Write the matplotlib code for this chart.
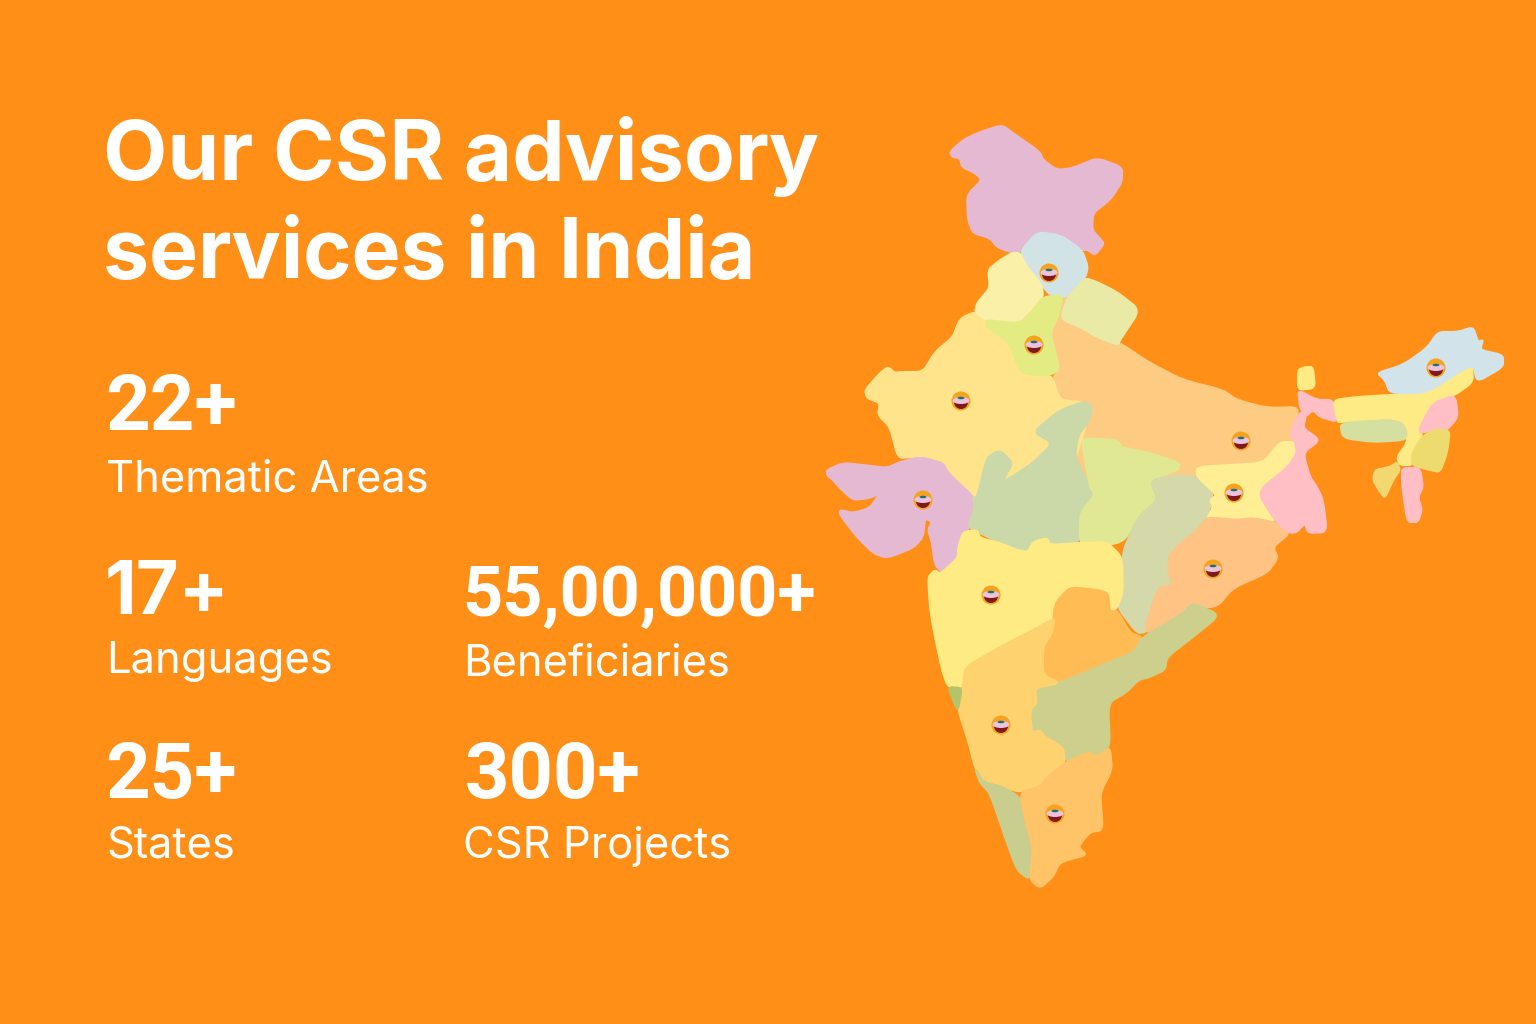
import matplotlib
matplotlib.use('Agg')
import matplotlib.pyplot as plt
from matplotlib.patches import Circle, Ellipse, Wedge, PathPatch
from matplotlib.path import Path

# everything is placed in the pixel space of the 1536x1024 picture
WIDTH = 1536
HEIGHT = 1024
BACKGROUND = '#FF8F17'
CORNER = 0.3

title_lines = ['Our CSR advisory', 'services in India']
title_sizes = [60, 59.3]
stat_values = ['22+', '17+', '55,00,000+', '25+', '300+']
stat_labels = ['Thematic Areas', 'Languages', 'Beneficiaries', 'States', 'CSR Projects']
stat_x = [105, 105, 462, 105, 465]
label_x = [106, 106, 463, 106, 463]
value_y = [430, 614, 616, 798, 798]
label_y = [491, 673, 675, 857, 858]

# state outlines
jammu_kashmir = [(950,152),(963,140),(980,132),(1002,125),(1013,133),(1040,152),(1043,160),(1057,170),(1073,168),(1097,158),(1122,167),(1122,182),(1110,200),(1093,213),(1092,230),(1103,242),(1103,245),(1095,255),(1088,250),(1082,250),(1060,235),(1037,232),(1020,252),(1010,252),(997,247),(990,238),(973,233),(968,220),(967,195),(982,180),(975,173),(962,167),(960,158),(952,157)]
himachal = [(1020,252),(1037,232),(1060,235),(1082,250),(1088,267),(1085,278),(1068,297),(1050,295),(1042,285),(1027,267)]
punjab = [(1012,253),(1020,253),(1027,267),(1042,285),(1043,297),(1033,310),(1020,323),(1003,322),(987,320),(975,312),(977,303),(990,288),(988,270),(1000,260)]
haryana = [(1043,297),(1063,295),(1058,317),(1050,333),(1060,370),(1047,376),(1020,373),(1010,343),(987,327),(987,320),(1003,322),(1020,323),(1033,310)]
uttarakhand = [(1068,297),(1085,278),(1097,282),(1117,292),(1140,310),(1120,340),(1118,345),(1097,337),(1080,327),(1063,320),(1062,313)]
uttar_pradesh = [(1058,317),(1062,296),(1070,296),(1063,320),(1080,327),(1097,337),(1118,345),(1120,343),(1150,363),(1183,380),(1223,390),(1237,400),(1267,408),(1300,407),(1290,433),(1295,442),(1285,450),(1263,470),(1230,475),(1197,480),(1150,490),(1100,530),(1070,510),(1050,430),(1060,400),(1053,377),(1060,370),(1050,333)]
rajasthan = [(963,317),(958,323),(953,337),(935,352),(923,372),(900,372),(895,373),(888,367),(880,373),(865,390),(867,398),(880,403),(878,415),(890,427),(898,458),(913,457),(945,465),(950,480),(977,498),(1010,515),(1070,475),(1088,420),(1083,402),(1060,400),(1052,377),(1047,376),(1020,373),(1010,343),(987,327),(987,320),(975,312)]
gujarat = [(827,470),(843,463),(863,465),(887,468),(900,462),(920,457),(943,463),(948,473),(977,500),(968,530),(963,538),(962,557),(943,573),(935,565),(932,543),(928,530),(932,522),(925,518),(923,537),(913,548),(887,558),(873,553),(857,537),(840,515),(840,510),(853,513),(870,508),(880,493),(870,498),(853,500),(840,488),(833,480),(827,475)]
madhya_pradesh = [(1083,402),(1092,405),(1090,420),(1078,435),(1075,457),(1083,473),(1090,487),(1095,495),(1080,513),(1080,543),(1050,545),(1047,538),(1033,542),(1028,552),(1017,550),(1000,543),(980,533),(968,527),(975,507),(973,497),(977,498),(987,457),(1000,450),(1013,463),(1003,480),(1007,480),(1033,463),(1053,443),(1033,432),(1060,410)]
chhattisgarh_north = [(1083,438),(1117,440),(1123,448),(1147,452),(1180,463),(1178,470),(1150,480),(1158,500),(1138,517),(1123,543),(1080,547),(1080,513),(1095,495),(1090,487),(1083,450)]
chhattisgarh = [(1150,480),(1180,475),(1197,477),(1213,493),(1210,507),(1207,518),(1197,530),(1170,553),(1168,570),(1173,585),(1158,587),(1147,632),(1137,633),(1117,607),(1125,587),(1122,553),(1138,517),(1158,500)]
jharkhand = [(1197,467),(1230,465),(1263,463),(1280,442),(1295,442),(1297,453),(1288,467),(1257,492),(1277,523),(1253,518),(1237,520),(1217,518),(1207,518),(1213,508),(1210,500),(1217,495),(1197,477)]
odisha = [(1207,518),(1217,518),(1237,520),(1253,518),(1277,523),(1290,533),(1273,547),(1278,558),(1267,573),(1233,588),(1217,607),(1190,607),(1173,620),(1143,635),(1158,587),(1173,585),(1168,570),(1170,553),(1197,530)]
west_bengal = [(1300,412),(1306,416),(1303,428),(1320,440),(1303,453),(1310,477),(1317,487),(1323,500),(1327,532),(1308,533),(1305,523),(1297,532),(1290,533),(1277,523),(1257,492),(1288,467),(1297,453),(1295,442),(1290,433)]
bengal_strip = [(1298,390),(1317,400),(1333,400),(1338,422),(1320,417),(1313,410),(1305,417),(1300,407)]
sikkim = [(1298,370),(1305,367),(1313,367),(1315,388),(1298,390)]
assam = [(1333,400),(1357,397),(1390,395),(1427,393),(1472,363),(1473,382),(1455,395),(1433,403),(1420,427),(1422,437),(1412,453),(1412,465),(1400,465),(1397,457),(1407,443),(1407,432),(1402,422),(1390,418),(1340,422),(1338,422)]
meghalaya = [(1340,423),(1390,420),(1402,423),(1407,432),(1405,440),(1373,442),(1343,438)]
arunachal = [(1377,373),(1403,365),(1427,348),(1438,332),(1458,332),(1473,327),(1478,342),(1483,340),(1480,350),(1503,355),(1503,367),(1477,382),(1473,363),(1427,393),(1390,393),(1385,380)]
nagaland = [(1433,403),(1455,395),(1458,417),(1447,430),(1433,430),(1420,433),(1420,427)]
manipur = [(1433,430),(1450,430),(1447,453),(1440,472),(1430,470),(1412,465),(1412,453),(1422,437)]
tripura = [(1397,462),(1400,470),(1393,480),(1385,498),(1380,492),(1373,480),(1375,470),(1390,467)]
mizoram = [(1402,468),(1420,468),(1423,487),(1418,497),(1422,510),(1418,522),(1408,522),(1405,507),(1402,483)]
maharashtra = [(928,577),(935,570),(940,574),(958,558),(958,548),(963,532),(977,530),(980,538),(1000,543),(1017,550),(1028,552),(1033,542),(1047,538),(1050,545),(1080,543),(1107,542),(1122,557),(1123,592),(1117,608),(1110,612),(1108,593),(1098,590),(1070,587),(1055,603),(1055,618),(1033,630),(1000,647),(965,667),(963,687),(948,687),(942,670),(933,627),(930,607)]
telangana = [(1070,587),(1098,590),(1108,593),(1110,612),(1117,610),(1130,633),(1143,637),(1133,653),(1107,663),(1060,683),(1043,675),(1043,647),(1052,633),(1055,603)]
andhra = [(1035,688),(1060,683),(1107,663),(1133,653),(1143,637),(1167,623),(1183,613),(1193,603),(1220,615),(1193,637),(1167,657),(1165,670),(1150,677),(1138,680),(1127,692),(1108,703),(1110,747),(1097,757),(1088,752),(1067,763),(1063,747),(1045,737),(1040,730),(1032,733),(1030,710),(1037,703)]
karnataka = [(965,667),(1000,647),(1033,630),(1055,618),(1052,633),(1043,647),(1043,675),(1060,683),(1035,688),(1037,703),(1030,710),(1032,733),(1040,730),(1045,737),(1063,747),(1065,763),(1047,777),(1040,787),(1020,792),(1003,787),(983,782),(975,768),(968,740),(958,710),(962,690),(963,687)]
goa = [(948,687),(962,688),(958,710),(955,705)]
kerala = [(975,768),(983,782),(1003,787),(1020,797),(1025,820),(1033,847),(1030,880),(1017,870),(1007,843),(990,793),(980,783)]
tamil_nadu = [(1020,792),(1040,787),(1047,777),(1065,763),(1088,752),(1097,757),(1110,747),(1112,770),(1100,793),(1103,830),(1090,832),(1078,847),(1087,855),(1060,862),(1053,877),(1040,888),(1030,880),(1033,847),(1025,820)]

# drawn in this order, later states sit on top
states = [uttar_pradesh, rajasthan, jammu_kashmir, himachal, punjab, haryana, uttarakhand,
          gujarat, madhya_pradesh, chhattisgarh_north, chhattisgarh, jharkhand, odisha,
          west_bengal, bengal_strip, sikkim, assam, meghalaya, arunachal, nagaland,
          manipur, tripura, mizoram, maharashtra, telangana, andhra, karnataka, goa,
          kerala, tamil_nadu]
state_colors = ['#FECB82', '#FFE48C', '#E6B9D2', '#D2E3E5', '#FBF0A8', '#E3EC82', '#E8EAA5',
                '#E6B9D2', '#CBD9A9', '#E0E893', '#D5D8A8', '#FFEE94', '#FFC383',
                '#FFBFC4', '#FFBFC4', '#FFEB85', '#FFEB85', '#D5DFA0', '#D3E3EA', '#FFBFC4',
                '#EEDB70', '#F3D770', '#FFBFC4', '#FFEB83', '#FFBC55', '#CDCF8C', '#FFD270', '#B4C46B',
                '#C9CD8E', '#FFC467']

# project pins
pin_x = [1049, 1034, 961, 923, 991, 1001, 1055, 1213, 1234, 1241, 1436]
pin_y = [273, 345, 401, 500, 595, 725, 814, 569, 493, 441, 368]

value_fonts = ['Roboto', 'Inter', 'Roboto', 'Roboto', 'Roboto']
value_sizes = [56, 53, 50.5, 56, 56]


def state_patch(outline, color):
    # straight edges with the corners rounded off
    n = len(outline)
    verts = []
    codes = []
    for i in range(n):
        p = outline[i]
        prev = outline[i - 1]
        nxt = outline[(i + 1) % n]
        start = (p[0] + CORNER * (prev[0] - p[0]), p[1] + CORNER * (prev[1] - p[1]))
        end = (p[0] + CORNER * (nxt[0] - p[0]), p[1] + CORNER * (nxt[1] - p[1]))
        verts += [start, p, end]
        codes += [Path.MOVETO if i == 0 else Path.LINETO, Path.CURVE3, Path.CURVE3]
    verts.append(verts[0])
    codes.append(Path.CLOSEPOLY)
    return PathPatch(Path(verts, codes), fc=color, ec=color, lw=1.5, zorder=2)


def draw_pin(ax, x, y):
    ax.add_patch(Circle((x, y), 9.5, fc='#F5A31C', ec='none', zorder=5))
    ax.add_patch(Wedge((x, y + 1), 7, 0, 180, fc='#7E1A1A', ec='none', zorder=6))
    ax.add_patch(Ellipse((x, y - 0.5), 17, 7, fc='#EBC3DC', ec='none', zorder=7))
    ax.add_patch(Ellipse((x, y - 3), 7, 2.5, fc='#1F6F78', ec='none', zorder=8))


plt.rcParams['font.family'] = ['Inter', 'DejaVu Sans']
fig = plt.figure(figsize=(WIDTH / 100, HEIGHT / 100), dpi=100, facecolor=BACKGROUND)
ax = fig.add_axes([0, 0, 1, 1])
ax.set_xlim(0, WIDTH)
ax.set_ylim(HEIGHT, 0)
ax.axis('off')

for outline, color in zip(states, state_colors):
    ax.add_patch(state_patch(outline, color))

for x, y in zip(pin_x, pin_y):
    draw_pin(ax, x, y)

ax.text(103, 180, title_lines[0], color='white', fontsize=title_sizes[0], fontweight='bold', va='baseline')
ax.text(103, 278, title_lines[1], color='white', fontsize=title_sizes[1], fontweight='bold', va='baseline')

for i in range(len(stat_values)):
    ax.text(stat_x[i], value_y[i], stat_values[i], color='white', family=[value_fonts[i], 'DejaVu Sans'],
            fontsize=value_sizes[i], fontweight='bold', va='baseline')
    ax.text(label_x[i], label_y[i], stat_labels[i], color='white', fontsize=31.3, va='baseline')

fig.savefig('out.png', dpi=100, facecolor=BACKGROUND)
